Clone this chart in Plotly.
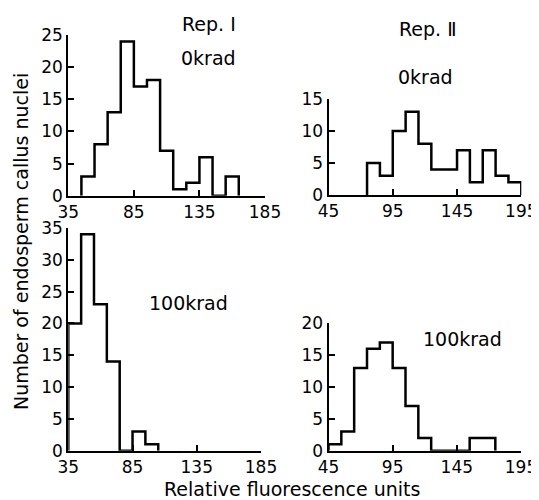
import plotly.graph_objects as go

# ---- data ----
BIN_WIDTH = 10

rep1_0krad_bins = [45, 55, 65, 75, 85, 95, 105, 115, 125, 135, 145, 155]
rep1_0krad_counts = [3, 8, 13, 24, 17, 18, 7, 1, 2, 6, 0, 3]

rep2_0krad_bins = [75, 85, 95, 105, 115, 125, 135, 145, 155, 165, 175, 185]
rep2_0krad_counts = [5, 3, 10, 13, 8, 4, 4, 7, 2, 7, 3, 2]

rep1_100krad_bins = [35, 45, 55, 65, 75, 85, 95]
rep1_100krad_counts = [20, 34, 23, 14, 0, 3, 1]

rep2_100krad_bins = [45, 55, 65, 75, 85, 95, 105, 115, 125, 135, 145, 155, 165]
rep2_100krad_counts = [1, 3, 13, 16, 17, 13, 7, 2, 0, 0, 0, 2, 2]

rep1_xticks = [35, 85, 135, 185]
rep2_xticks = [45, 95, 145, 195]
yticks_25 = [0, 5, 10, 15, 20, 25]
yticks_15 = [0, 5, 10, 15]
yticks_35 = [0, 5, 10, 15, 20, 25, 30, 35]
yticks_20 = [0, 5, 10, 15, 20]

# page is 539x500; the browser body has an 8px margin, so the figure is
# sized to fit the remaining viewport and positions are given in page pixels
PAGE_W, PAGE_H = 539, 500
OFF = 8
W, H = PAGE_W - OFF, PAGE_H - OFF
FONT = "DejaVu Sans"


def px_x(p):
    return (p - OFF) / W


def px_y(p):
    return 1 - (p - OFF) / H


def outline(bins, counts):
    xs = [bins[0]] + list(bins) + [bins[-1] + BIN_WIDTH]
    ys = [0] + list(counts) + [0]
    return xs, ys


fig = go.Figure()

panels = [
    (rep1_0krad_bins, rep1_0krad_counts, "x", "y"),
    (rep2_0krad_bins, rep2_0krad_counts, "x2", "y2"),
    (rep1_100krad_bins, rep1_100krad_counts, "x3", "y3"),
    (rep2_100krad_bins, rep2_100krad_counts, "x4", "y4"),
]
for bins, counts, xa, ya in panels:
    xs, ys = outline(bins, counts)
    fig.add_trace(go.Scatter(
        x=xs, y=ys, mode="lines", xaxis=xa, yaxis=ya,
        line=dict(color="black", width=2.5, shape="hv"),
        cliponaxis=False, showlegend=False, hoverinfo="skip"))

axis_common = dict(showline=True, linecolor="black", linewidth=2,
                   ticks="inside", ticklen=6, tickwidth=2, tickcolor="black",
                   showgrid=False, zeroline=False, automargin=False,
                   tickfont=dict(family=FONT, size=17, color="black"))


def xax(dom, rng, ticks, anchor):
    d = dict(axis_common)
    d.update(domain=[px_x(dom[0]), px_x(dom[1])], range=rng,
             tickmode="array", tickvals=ticks, anchor=anchor,
             ticklabelstandoff=0)
    return d


def yax(dom, rng, ticks, anchor):
    d = dict(axis_common)
    d.update(domain=[px_y(dom[1]), px_y(dom[0])], range=rng,
             tickmode="array", tickvals=ticks, anchor=anchor,
             ticklabelstandoff=0)
    return d


fig.update_layout(
    template="none",
    width=W, height=H,
    margin=dict(l=0, r=0, t=0, b=0, pad=0, autoexpand=False),
    paper_bgcolor="white", plot_bgcolor="white",
    xaxis=xax((68.3, 265), [35, 185], rep1_xticks, "y"),
    yaxis=yax((35, 195.7), [0, 25], yticks_25, "x"),
    xaxis2=xax((328.5, 521.3), [45, 195], rep2_xticks, "y2"),
    yaxis2=yax((99, 195), [0, 15], yticks_15, "x2"),
    xaxis3=xax((68.3, 261), [35, 185], rep1_xticks, "y3"),
    yaxis3=yax((228, 450.7), [0, 35], yticks_35, "x3"),
    xaxis4=xax((328.5, 521), [45, 195], rep2_xticks, "y4"),
    yaxis4=yax((323.3, 450.7), [0, 20], yticks_20, "x4"),
)

labels = [
    ("Rep. Ⅰ", 209, 24),
    ("0krad", 208, 58),
    ("Rep. Ⅱ", 428, 29),
    ("0krad", 425, 77),
    ("100krad", 188, 303),
    ("100krad", 462, 339),
]
for text, x, y in labels:
    fig.add_annotation(text=text, x=px_x(x), y=px_y(y), xref="paper", yref="paper",
                       xanchor="center", yanchor="middle", showarrow=False,
                       font=dict(family=FONT, size=19, color="black"))

fig.add_annotation(text="Number of endosperm callus nuclei", x=px_x(21), y=px_y(242),
                   xref="paper", yref="paper", textangle=-90,
                   xanchor="center", yanchor="middle", showarrow=False,
                   borderpad=0,
                   font=dict(family=FONT, size=19, color="black"))
fig.add_annotation(text="Relative fluorescence units", x=px_x(292), y=px_y(489),
                   xref="paper", yref="paper",
                   xanchor="center", yanchor="middle", showarrow=False,
                   font=dict(family=FONT, size=19, color="black"))

fig.write_html("out.html")
